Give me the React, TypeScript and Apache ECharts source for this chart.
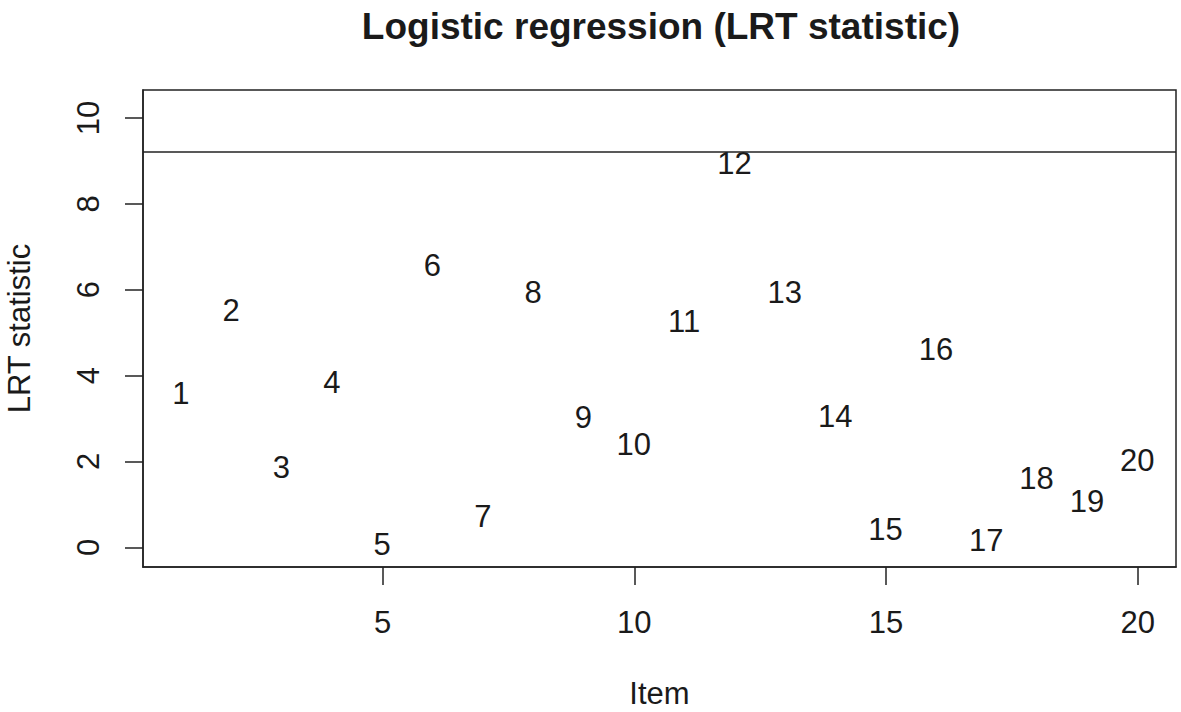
import React, { useEffect, useRef } from "react";
import * as echarts from "echarts";

const items = [1, 2, 3, 4, 5, 6, 7, 8, 9, 10, 11, 12, 13, 14, 15, 16, 17, 18, 19, 20];
const lrtStat = [3.58, 5.51, 1.85, 3.83, 0.06, 6.55, 0.70, 5.93, 3.01, 2.37, 5.24, 8.92, 5.93, 3.03, 0.41, 4.59, 0.14, 1.58, 1.05, 2.02];
const threshold = 9.21;
const xTicks = [5, 10, 15, 20];
const yTicks = [0, 2, 4, 6, 8, 10];

const FONT = "'Liberation Sans', Arial, sans-serif";
const TXT = "#1a1a1a";

export default function App() {
  const ref = useRef<HTMLDivElement>(null);
  useEffect(() => {
    if (!ref.current) return;
    const chart = echarts.init(ref.current, undefined, { renderer: "svg" });
    chart.setOption({
      animation: false,
      backgroundColor: "#ffffff",
      title: {
        text: "Logistic regression (LRT statistic)",
        left: 656,
        textAlign: "center",
        top: 3,
        textStyle: { fontFamily: FONT, fontWeight: "bold", fontSize: 37, color: TXT },
      },
      grid: {
        left: 143,
        top: 90,
        right: 5,
        bottom: 145,
        outerBoundsMode: "none",
        containLabel: false,
        show: true,
        borderColor: "#222",
        borderWidth: 1.5,
        backgroundColor: "transparent",
      },
      xAxis: {
        type: "value",
        min: 0.24,
        max: 20.76,
        name: "Item",
        nameLocation: "middle",
        nameGap: 111,
        nameTextStyle: { fontFamily: FONT, fontSize: 31, color: TXT },
        axisLine: { show: true, onZero: false, lineStyle: { color: "#222", width: 1.5 } },
        axisTick: { show: true, customValues: xTicks, length: 18, lineStyle: { color: "#222", width: 1.5 } },
        axisLabel: { customValues: xTicks, margin: 40, fontFamily: FONT, fontSize: 31, color: TXT },
        splitLine: { show: false },
      },
      yAxis: {
        type: "value",
        min: -0.46,
        max: 10.65,
        name: "LRT statistic",
        nameLocation: "middle",
        nameGap: 108,
        nameTextStyle: { fontFamily: FONT, fontSize: 31, color: TXT },
        axisLine: { show: true, lineStyle: { color: "#222", width: 1.5 } },
        axisTick: { show: true, customValues: yTicks, length: 18, lineStyle: { color: "#222", width: 1.5 } },
        axisLabel: { customValues: yTicks, rotate: 90, margin: 39, fontFamily: FONT, fontSize: 31, color: TXT },
        splitLine: { show: false },
      },
      series: [
        {
          type: "scatter",
          data: items.map((it, i) => [it, lrtStat[i]]),
          symbol: "circle",
          symbolSize: 1,
          itemStyle: { color: "rgba(255,255,255,0)" },
          label: {
            show: true,
            position: [0, 0],
            align: "center",
            verticalAlign: "middle",
            formatter: (p: any) => String(p.value[0]),
            fontFamily: FONT,
            fontSize: 31,
            color: TXT,
            opacity: 1,
            textBorderWidth: 0,
          },
          markLine: {
            silent: true,
            symbol: "none",
            label: { show: false },
            lineStyle: { color: "#222", width: 1.5, type: "solid" },
            data: [{ yAxis: threshold }],
          },
        },
      ],
    });
    return () => chart.dispose();
  }, []);
  return (
    <div
      ref={ref}
      style={{ position: "fixed", left: 0, top: 0, width: 1181, height: 712, background: "#fff" }}
    />
  );
}
